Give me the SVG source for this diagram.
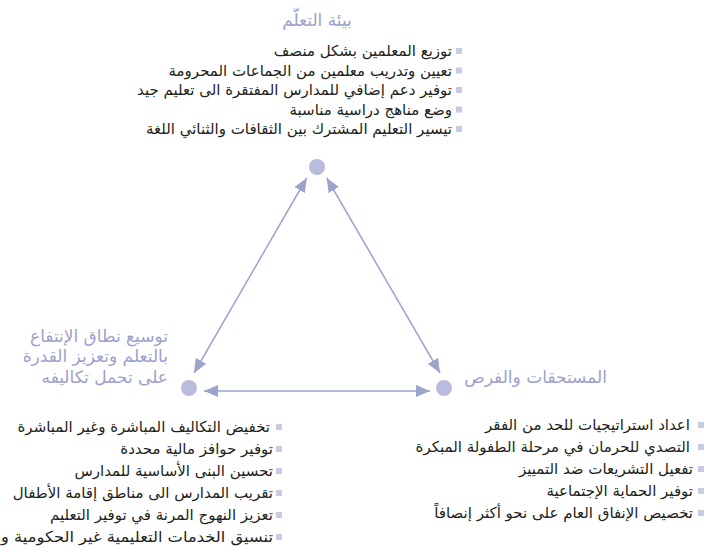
<svg xmlns="http://www.w3.org/2000/svg" width="720" height="547" viewBox="0 0 720 547">
<style>
.lbl{font-family:"DejaVu Sans",sans-serif;font-size:17px;fill:#9ca1cc;direction:rtl}
.it{font-family:"DejaVu Sans",sans-serif;font-size:15px;fill:#231f20;direction:rtl}
.bul{fill:#c8cbe2}
.dot{fill:#b9bcdc}
.con{stroke:#9ea3cc;stroke-width:1.5;fill:none;marker-start:url(#ah);marker-end:url(#ah)}
</style>
<defs>
<marker id="ah" viewBox="0 0 14 12" refX="14" refY="6" markerWidth="14" markerHeight="12" markerUnits="userSpaceOnUse" orient="auto-start-reverse">
<path d="M0,0 L14,6 L0,12 z" fill="#9ea3cc"/>
</marker>
</defs>
<rect width="720" height="547" fill="#ffffff"/>
<g id="connectors">
<line class="con" x1="306.7" y1="178" x2="194" y2="373"/>
<line class="con" x1="326.7" y1="178" x2="440" y2="373"/>
<line class="con" x1="204" y1="391" x2="430" y2="391"/>
</g>
<g id="node-learning-environment">
<circle class="dot" cx="317" cy="167" r="8"/>
<text class="lbl" x="317" y="26" text-anchor="middle">بيئة التعلّم</text>
<rect class="bul" x="456" y="48" width="6" height="6"/>
<rect class="bul" x="456" y="67.5" width="6" height="6"/>
<rect class="bul" x="456" y="87" width="6" height="6"/>
<rect class="bul" x="456" y="106.5" width="6" height="6"/>
<rect class="bul" x="456" y="126" width="6" height="6"/>
<text class="it" x="452" y="56" text-anchor="start">توزيع المعلمين بشكل منصف</text>
<text class="it" x="452" y="75.5" text-anchor="start">تعيين وتدريب معلمين من الجماعات المحرومة</text>
<text class="it" x="452" y="95" text-anchor="start">توفير دعم إضافي للمدارس المفتقرة الى تعليم جيد</text>
<text class="it" x="452" y="114.5" text-anchor="start">وضع مناهج دراسية مناسبة</text>
<text class="it" x="452" y="134" text-anchor="start">تيسير التعليم المشترك بين الثقافات والثنائي اللغة</text>
</g>
<g id="node-access">
<circle class="dot" cx="189" cy="388" r="8"/>
<text class="lbl" x="168" y="342" text-anchor="start">توسيع نطاق الإنتفاع</text>
<text class="lbl" x="168" y="362" text-anchor="start">بالتعلم وتعزيز القدرة</text>
<text class="lbl" x="168" y="383" text-anchor="start">على تحمل تكاليفه</text>
<rect class="bul" x="276" y="424" width="6" height="6"/>
<rect class="bul" x="276" y="446" width="6" height="6"/>
<rect class="bul" x="276" y="468" width="6" height="6"/>
<rect class="bul" x="276" y="490" width="6" height="6"/>
<rect class="bul" x="276" y="512" width="6" height="6"/>
<rect class="bul" x="276" y="534" width="6" height="6"/>
<text class="it" x="270" y="432" text-anchor="start">تخفيض التكاليف المباشرة وغير المباشرة</text>
<text class="it" x="273" y="454" text-anchor="start">توفير حوافز مالية محددة</text>
<text class="it" x="273" y="476" text-anchor="start">تحسين البنى الأساسية للمدارس</text>
<text class="it" x="273" y="498" text-anchor="start">تقريب المدارس الى مناطق إقامة الأطفال</text>
<text class="it" x="273" y="520" text-anchor="start">تعزيز النهوج المرنة في توفير التعليم</text>
<text class="it" x="273" y="542" text-anchor="start" textLength="272" lengthAdjust="spacingAndGlyphs">تنسيق الخدمات التعليمية غير الحكومية و</text>
</g>
<g id="node-entitlements">
<circle class="dot" cx="444" cy="388" r="8"/>
<text class="lbl" x="607" y="383" text-anchor="start">المستحقات والفرص</text>
<rect class="bul" x="698" y="422" width="6" height="6"/>
<rect class="bul" x="698" y="444" width="6" height="6"/>
<rect class="bul" x="698" y="466" width="6" height="6"/>
<rect class="bul" x="698" y="488" width="6" height="6"/>
<rect class="bul" x="698" y="510" width="6" height="6"/>
<text class="it" x="690" y="430" text-anchor="start">اعداد استراتيجيات للحد من الفقر</text>
<text class="it" x="690" y="452" text-anchor="start">التصدي للحرمان في مرحلة الطفولة المبكرة</text>
<text class="it" x="693" y="474" text-anchor="start">تفعيل التشريعات ضد التمييز</text>
<text class="it" x="693" y="496" text-anchor="start">توفير الحماية الإجتماعية</text>
<text class="it" x="693" y="518" text-anchor="start">تخصيص الإنفاق العام على نحو أكثر إنصافاً</text>
</g>
</svg>
